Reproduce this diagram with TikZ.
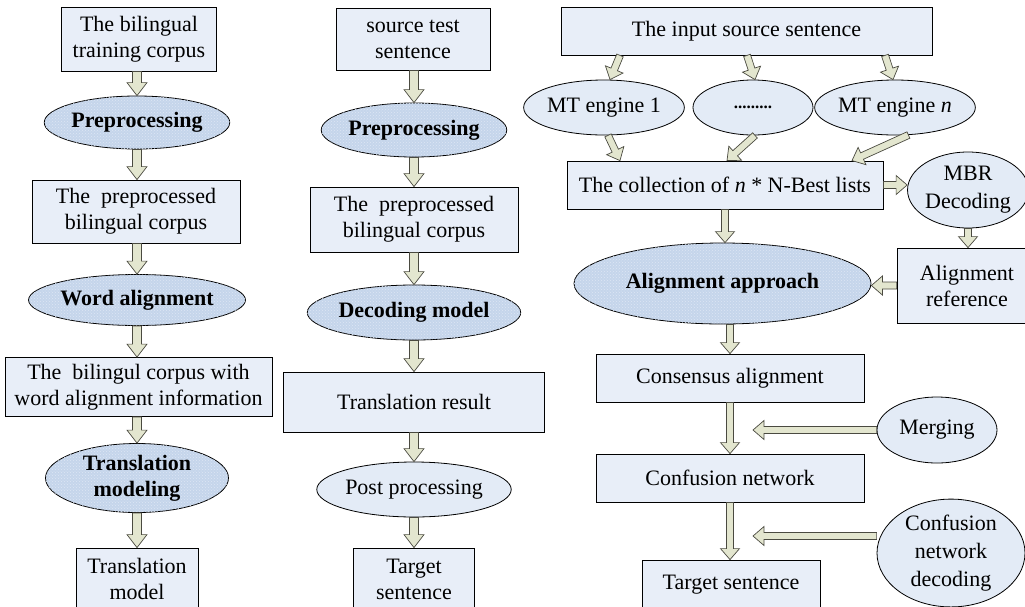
\documentclass[tikz,border=0pt]{standalone}
\usepackage{fontspec}
\setmainfont{Liberation Serif}
\usetikzlibrary{calc,shapes.geometric,patterns}
\definecolor{boxfill}{HTML}{E8EEF8}
\definecolor{ovalfill}{HTML}{E3EBF6}
\definecolor{procfill}{HTML}{C5D5EB}
\definecolor{procdots}{HTML}{DDE7F4}
\definecolor{arrowfill}{HTML}{E3E6CF}
\definecolor{arrowline}{HTML}{4A4A40}
\begin{document}
\begin{tikzpicture}[x=1pt,y=-1pt,line width=0.8pt,
  every node/.style={font=\fontsize{22}{26}\selectfont,align=center,inner sep=0pt},
  box/.style={draw,fill=boxfill,rectangle},
  oval/.style={draw,fill=ovalfill,ellipse},
  proc/.style={draw,fill=procfill,ellipse,font=\fontsize{22}{26}\selectfont\bfseries,
    postaction={pattern=crosshatch dots,pattern color=procdots}},
  blk/.style n args={3}{draw=arrowline,fill=arrowfill,line width=0.7pt,
    to path={let \p1=($(\tikztotarget)-(\tikztostart)$),
      \n1={veclen(\x1,\y1)},\n2={atan2(\y1,\x1)},\n3={\n1-#3} in
      ([shift={(\tikztostart)},rotate=\n2]0pt,#1)
      -- ([shift={(\tikztostart)},rotate=\n2]\n3,#1)
      -- ([shift={(\tikztostart)},rotate=\n2]\n3,#2)
      -- ([shift={(\tikztostart)},rotate=\n2]\n1,0pt)
      -- ([shift={(\tikztostart)},rotate=\n2]\n3,-#2)
      -- ([shift={(\tikztostart)},rotate=\n2]\n3,-#1)
      -- ([shift={(\tikztostart)},rotate=\n2]0pt,-#1) -- cycle}},
  fat/.style={blk={4.5pt}{10pt}{13pt}},
  slim/.style={blk={3.5pt}{9.5pt}{11pt}}]
\useasboundingbox (0,0) rectangle (1025,606);
\clip (0,0) rectangle (1025,606);
% training
\node[box,minimum width=155pt,minimum height=64pt] (c1) at (139,39) {The bilingual\\training corpus};
\node[proc,minimum width=183pt,minimum height=53pt] (p1) at (137,122.5) {Preprocessing};
\node[box,minimum width=208pt,minimum height=63pt] (bc1) at (136,211.5) {The\ \ preprocessed\\bilingual corpus};
\node[proc,minimum width=183pt,minimum height=51pt] (wa) at (137,300) {Word alignment};
\node[box,minimum width=267pt,minimum height=59pt] (wc) at (138.5,387) {The\ \ bilingul corpus with\\word alignment information};
\node[proc,minimum width=183pt,minimum height=69pt] (tm) at (137,478) {Translation\\modeling};
\node[box,minimum width=122pt,minimum height=62pt] (tmod) at (137,579) {Translation\\model};
% decoding
\node[box,minimum width=154pt,minimum height=62pt] (c2) at (413,39) {source test\\sentence};
\node[proc,minimum width=184pt,minimum height=54pt] (p2) at (414,130) {Preprocessing};
\node[box,minimum width=208pt,minimum height=65pt] (bc2) at (414,219.5) {The\ \ preprocessed\\bilingual corpus};
\node[proc,minimum width=184pt,minimum height=55pt] (dm) at (414,312.5) {Decoding model};
\node[box,minimum width=261pt,minimum height=60pt] (tr) at (414,402) {Translation result};
\node[oval,minimum width=184pt,minimum height=55pt] (pp) at (414,489.5) {Post processing};
\node[box,minimum width=121pt,minimum height=62pt] (ts2) at (414,579) {Target\\sentence};
% combination
\node[box,minimum width=371pt,minimum height=48pt] (src) at (746.5,31) {The input source sentence};
\node[oval,minimum width=124pt,minimum height=55pt] (mt1) at (604,107.5) {MT engine 1};
\node[oval,minimum width=120pt,minimum height=55pt,font=\fontsize{17}{17}\selectfont\bfseries] (mt2) at (753,107.5) {.........};
\node[oval,minimum width=124pt,minimum height=55pt] (mtn) at (895,107.5) {MT engine \textit{n}};
\node[box,minimum width=316pt,minimum height=48pt] (coll) at (725,185) {The collection of \textit{n} * N-Best lists};
\node[oval,minimum width=112pt,minimum height=76pt,font=\fontsize{22}{28}\selectfont] (mbr) at (968,190) {MBR\\Decoding};
\node[box,minimum width=140pt,minimum height=75pt] (ref) at (967,285.5) {Alignment\\reference};
\node[proc,minimum width=297pt,minimum height=81pt] (aa) at (722.5,283.5) {Alignment approach};
\node[box,minimum width=268pt,minimum height=48pt] (cons) at (730,378) {Consensus alignment};
\node[oval,minimum width=120pt,minimum height=66pt] (merge) at (937,430) {Merging};
\node[box,minimum width=268pt,minimum height=48pt] (cnet) at (730,478) {Confusion network};
\node[oval,minimum width=148pt,minimum height=100pt,font=\fontsize{22}{28}\selectfont] (cnd) at (951,553) {Confusion\\network\\decoding};
\node[box,minimum width=178pt,minimum height=50pt] (tgt) at (731,585) {Target sentence};
\coordinate (m1) at (753,430);
\coordinate (m2) at (753,536);
% arrows
\draw[fat] (c1.south -| p1.north) to (p1.north);
\draw[fat] (p1.south) to (p1.south |- bc1.north);
\draw[fat] (wa.north |- bc1.south) to (wa.north);
\draw[fat] (wa.south) to (wa.south |- wc.north);
\draw[fat] (wc.south -| tm.north) to (tm.north);
\draw[fat] (tm.south) to (tm.south |- tmod.north);
\draw[fat] (c2.south -| p2.north) to (p2.north);
\draw[fat] (p2.south) to (p2.south |- bc2.north);
\draw[fat] (bc2.south) to (bc2.south |- dm.north);
\draw[fat] (dm.south) to (dm.south |- tr.north);
\draw[fat] (tr.south) to (tr.south |- pp.north);
\draw[fat] (pp.south) to (pp.south |- ts2.north);
\draw[slim] ([xshift=-126.5pt]src.south) to ([xshift=6pt]mt1.north);
\draw[slim] ([xshift=0.5pt]src.south) to ([xshift=2pt]mt2.north);
\draw[slim] ([xshift=138.5pt]src.south) to ([xshift=-2pt]mtn.north);
\draw[slim] ([xshift=4pt]mt1.south) to ([xshift=-105pt]coll.north);
\draw[slim] ([xshift=2pt]mt2.south) to ([xshift=2pt]coll.north);
\draw[slim] (mtn.296) to ([xshift=127pt]coll.north);
\draw[slim] (coll.east) to (coll.east -| mbr.west);
\draw[slim] (mbr.south) to (mbr.south |- ref.north);
\draw[slim] (ref.west) to (ref.west -| aa.east);
\draw[slim] (coll.south) to (coll.south |- aa.north);
\draw[slim] (cons.north |- aa.south) to (cons.north);
\draw[slim] (cons.south) to (cnet.north);
\draw[slim] (cnet.south) to (cnet.south |- tgt.north);
\draw[slim] (merge.west) to (m1);
\draw[slim] ([yshift=17pt]cnd.west) to (m2);
\end{tikzpicture}
\end{document}
